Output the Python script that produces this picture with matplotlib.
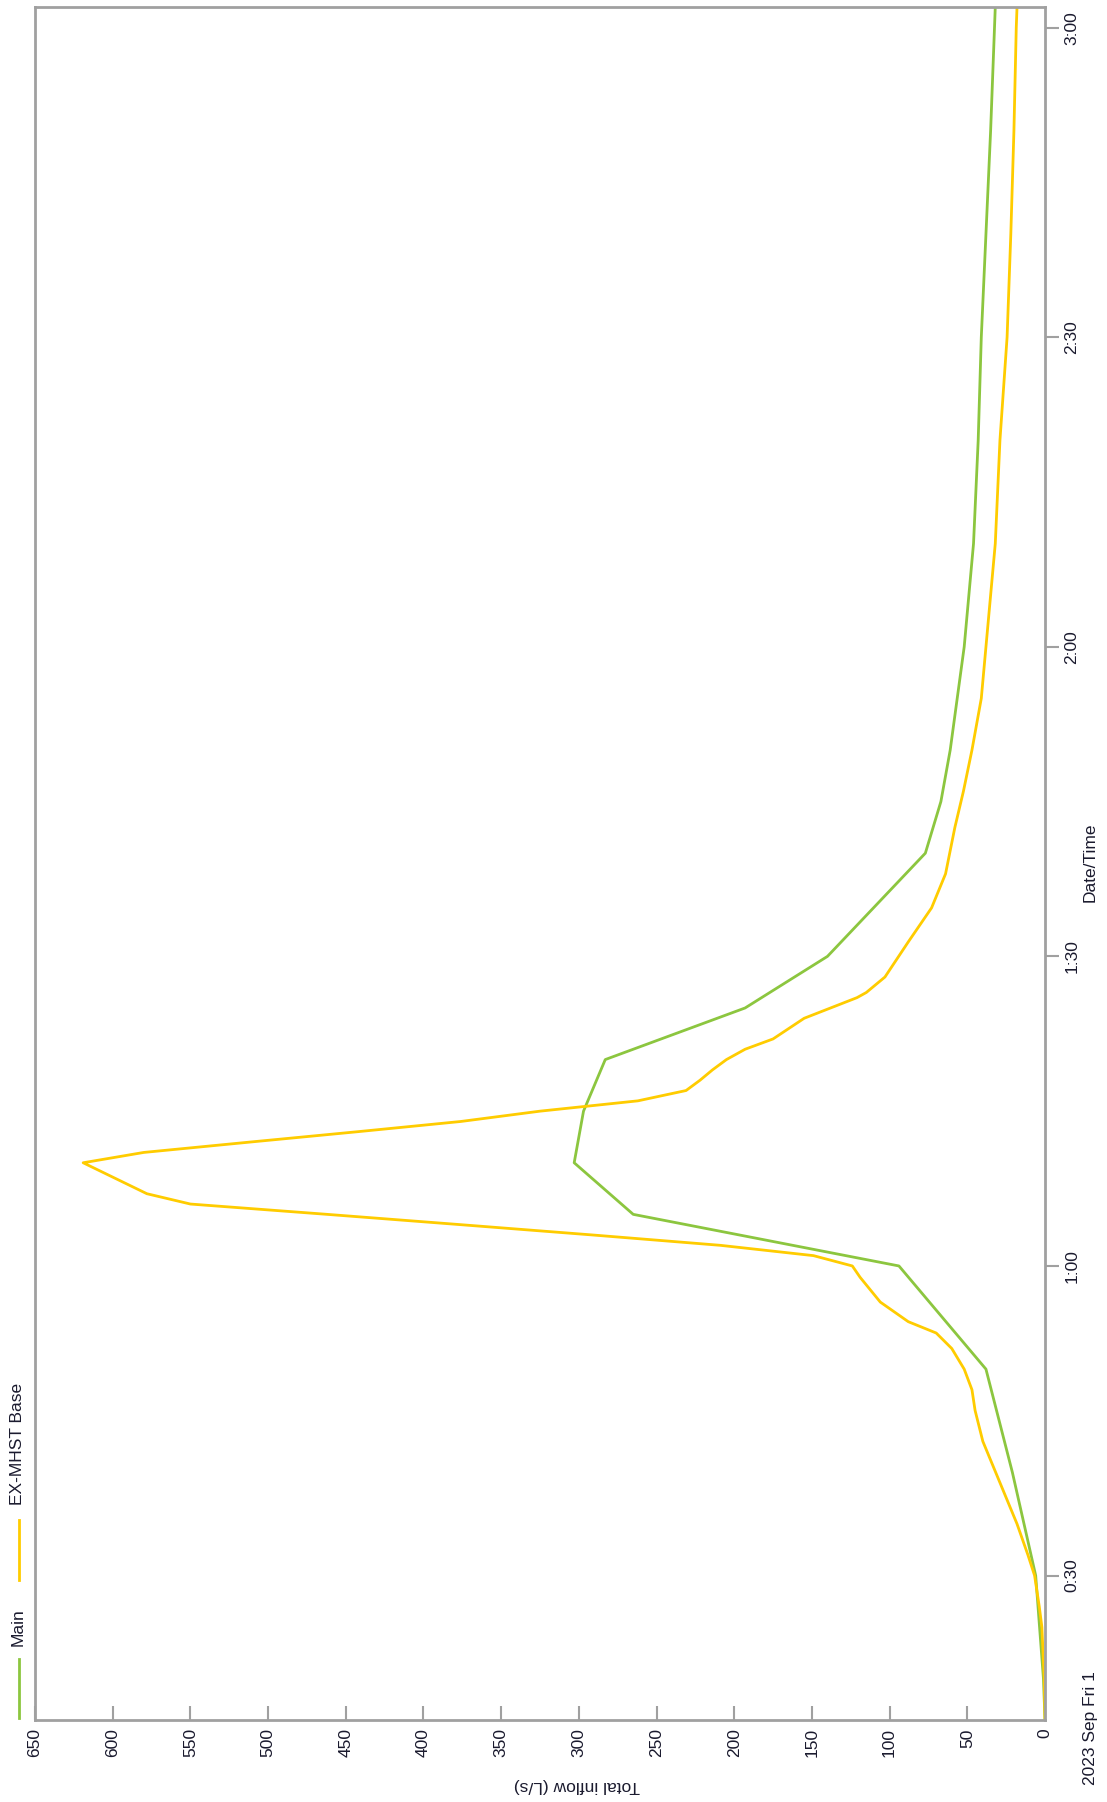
import numpy as np
import matplotlib
matplotlib.use("Agg")
import matplotlib.pyplot as plt
from matplotlib.lines import Line2D

plt.rcParams["font.family"] = ["Liberation Sans", "DejaVu Sans"]

# time in minutes after midnight, 2023 Sep Fri 1
main_t = [16, 20, 30, 40, 50, 60, 65, 70, 75, 80, 85, 90, 100, 105, 110,
          120, 130, 140, 150, 160, 170, 182]
main_q = [0, 1, 6, 21, 38, 94, 265, 303, 297, 283, 193, 140, 77, 67, 61,
          52, 46, 43, 41, 38, 35, 32]

base_t = [16, 20, 25, 27, 30, 32, 35, 39, 43, 46, 48, 50, 52, 53.5, 54.6,
          56.5, 58.9, 60, 61, 62, 63, 64, 65, 66, 67, 70, 71, 72, 73, 74, 75,
          76, 77, 78, 79, 80, 81, 82, 84, 86, 86.5, 88, 91.4, 94.7, 98, 102.5,
          106, 110, 115, 120, 125, 130, 140, 150, 160, 170, 180, 182]
base_q = [0, 0.5, 2, 3.7, 6.7, 11, 18, 29, 40, 45, 47, 52, 60, 70, 88,
          106, 119, 124, 149, 209, 291, 376, 462, 550, 578, 619, 580, 512, 443,
          376, 325, 262, 231, 222, 214, 205, 193, 175, 155, 121, 115, 103, 88,
          73, 64, 58, 52.5, 47, 41, 38, 35, 32, 29, 24.4, 22, 20, 18.5, 18]

q_ticks = list(range(0, 651, 50))
t_ticks = [30, 60, 90, 120, 150, 180]
t_labels = ["0:30", "1:00", "1:30", "2:00", "2:30", "3:00"]

green = "#8CC63F"
yellow = "#FFCC00"
grey = "#A0A0A0"
txt = "#1a1a2e"

W, H = 1107, 1802
fig = plt.figure(figsize=(W / 100, H / 100), dpi=100)
ax = fig.add_axes([35 / W, 1 - 1720 / H, 1010 / W, 1713 / H])

ax.plot(main_q, main_t, color=green, lw=2.0)
ax.plot(base_q, base_t, color=yellow, lw=2.0)

ax.set_xlim(650, 0)
ax.set_ylim(16, 182)
ax.set_xticks(q_ticks)
ax.set_xticklabels([str(v) for v in q_ticks], rotation=90, fontsize=12.5,
                   color=txt)
ax.set_yticks(t_ticks)
ax.set_yticklabels(t_labels, rotation=90, fontsize=12.5, color=txt,
                   va="center")
ax.yaxis.tick_right()
ax.tick_params(axis="x", direction="in", length=10, width=1.5, color=grey,
               pad=6)
ax.tick_params(axis="y", direction="out", length=10, width=1.5, color=grey,
               pad=4)
for s in ax.spines.values():
    s.set_color(grey)
    s.set_linewidth(2)

# axis titles
fig.text(577 / W, 1 - 1785 / H, "Total inflow (L/s)", rotation=180,
         ha="center", va="center", fontsize=12.5, color=txt)
fig.text(1090 / W, 1 - 862 / H, "Date/Time", rotation=90,
         ha="center", va="center", fontsize=12.5, color=txt)
fig.text(1090 / W, 1 - 1728 / H, "2023 Sep Fri 1", rotation=90,
         ha="center", va="center", fontsize=12.5, color=txt)

# legend (rotated)
fig.add_artist(Line2D([19 / W, 19 / W], [1 - 1718 / H, 1 - 1659 / H],
                      color=green, lw=2.0))
fig.text(18 / W, 1 - 1627 / H, "Main", rotation=90, ha="center",
         va="center", fontsize=12.5, color=txt)
fig.add_artist(Line2D([19 / W, 19 / W], [1 - 1580 / H, 1 - 1520 / H],
                      color=yellow, lw=2.0))
fig.text(18 / W, 1 - 1444 / H, "EX-MHST Base", rotation=90, ha="center",
         va="center", fontsize=12.5, color=txt)

fig.savefig("out.png", dpi=100)
